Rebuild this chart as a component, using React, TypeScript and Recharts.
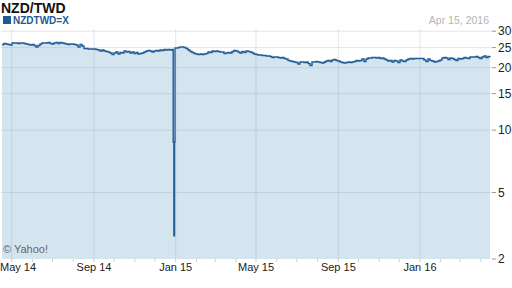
import React from 'react';
import { AreaChart, Area, XAxis, YAxis, ReferenceLine } from 'recharts';

const DAY = 86400000;
const FONT = '"Liberation Sans", Arial, sans-serif';

// x domain: Apr 15, 2014 -> just past Apr 15, 2016
const xStart = Date.UTC(2014, 3, 15);
const xEnd = Date.UTC(2016, 3, 17, 14);

// Rate samples, roughly every 3 days starting Apr 16, 2014
const seriesStart = Date.UTC(2014, 3, 16, 12);
const stepDays = 2.988;
const rates: (number | null)[] = [
  25.88, 26.17, 26.03, 25.88, 25.74, 26.32, 26.32, 26.32, 26.17, 26.32,
  26.32, 26.17, 26.03, 25.88, 25.74, 25.88, 25.60, 25.17, 25.60, 26.03,
  26.32, 26.32, 26.32, 26.47, 26.17, 26.03, 26.32, 26.47, 26.17, 26.47,
  26.32, 26.17, 26.03, 25.88, 26.03, 26.03, 25.88, 25.74, 25.17, 25.88,
  25.46, 24.76, 24.76, 24.62, 24.62, 24.62, 24.62, 24.48, 24.35, 24.08,
  24.35, 24.08, 23.94, 23.81, 23.55, 23.16, 23.55, 23.81, 23.29, 23.68,
  23.55, 24.08, 23.81, 23.94, 23.55, 23.81, 23.42, 23.68, 23.29, 23.42,
  23.55, 23.81, 24.08, 24.21, 24.08, 23.81, 24.08, 24.21, 24.08, 24.35,
  24.21, 24.48, 24.35, 24.48, 24.35, 24.48, null, 24.90, 25.03, 25.17,
  25.17, 25.03, 24.76, 24.35, 23.94, 23.68, 23.42, 23.29, 23.16, 23.29,
  23.16, 23.29, 23.42, 23.81, 23.68, 24.08, 23.94, 24.08, 23.94, 23.81,
  23.81, 23.42, 23.55, 23.68, 23.55, 23.94, 24.21, 24.08, 23.81, 23.55,
  23.94, 23.68, 24.08, 23.94, 23.81, 23.55, 23.29, 23.16, 23.03, 23.03,
  22.90, 22.90, 22.77, 22.77, 22.65, 22.40, 22.52, 22.52, 22.40, 22.27,
  22.40, 22.15, 22.02, 21.66, 21.54, 21.42, 21.30, 21.18, 20.83, 21.30,
  21.30, 21.18, 21.30, 20.95, 20.48, 21.30, 21.30, 21.42, 21.30, 21.18,
  21.06, 21.30, 21.54, 21.66, 21.42, 21.78, 21.90, 21.66, 21.54, 21.30,
  21.18, 21.06, 21.18, 21.30, 21.18, 21.30, 21.42, 21.66, 21.54, 21.66,
  22.02, 21.42, 22.02, 22.27, 22.27, 22.40, 22.40, 22.27, 22.40, 22.15,
  22.27, 22.02, 21.78, 21.54, 21.66, 21.30, 21.66, 21.54, 21.18, 21.78,
  21.54, 21.42, 21.78, 22.02, 22.15, 22.02, 22.15, 22.15, 22.15, 22.15,
  22.15, 21.78, 21.42, 22.02, 21.66, 21.54, 21.30, 21.42, 21.54, 21.78,
  22.27, 22.40, 22.27, 21.90, 22.27, 22.15, 21.90, 21.66, 22.15, 22.02,
  22.15, 22.40, 22.27, 22.15, 22.52, 22.52, 22.52, 22.65, 22.40, 22.15,
  22.52, 22.77, 22.40, 22.65, 22.77,
];

// Bad ticks around the turn of the year 2014/2015
const spikeTimes = [
  Date.UTC(2014, 11, 28, 7),
  Date.UTC(2014, 11, 29, 7),
  Date.UTC(2014, 11, 30, 5),
  Date.UTC(2014, 11, 31, 0),
];
const spikeRates = [8.77, 3.09, 8.77, 24.9];

// Month ticks (May 2014 .. Apr 2016); labels on May / Sep / Jan
const tickMonths: [number, number][] = [
  [2014, 4], [2014, 5], [2014, 6], [2014, 7], [2014, 8], [2014, 9], [2014, 10], [2014, 11],
  [2015, 0], [2015, 1], [2015, 2], [2015, 3], [2015, 4], [2015, 5], [2015, 6], [2015, 7],
  [2015, 8], [2015, 9], [2015, 10], [2015, 11], [2016, 0], [2016, 1], [2016, 2], [2016, 3],
];
const monthNames = ['Jan', 'Feb', 'Mar', 'Apr', 'May', 'Jun', 'Jul', 'Aug', 'Sep', 'Oct', 'Nov', 'Dec'];
const labelledMonths = [0, 4, 8];

// Log y axis
const yMin = 2.39;
const yMax = 30.74;
const yTicks = [2.39, 5, 10, 15, 20, 25, 30];
const yGrid = [5, 10, 15, 20, 25, 30];

const xTicks = tickMonths.map(([y, m]) => Date.UTC(y, m, 1));
const xMajor = tickMonths.filter(([, m]) => labelledMonths.includes(m)).map(([y, m]) => Date.UTC(y, m, 1));

const data = [
  ...rates
    .map((v, i) => ({ t: seriesStart + i * stepDays * DAY, v }))
    .filter((d) => d.v !== null),
  ...spikeTimes.map((t, i) => ({ t, v: spikeRates[i] })),
].sort((a, b) => a.t - b.t);

const fmtX = (t: number) => {
  const d = new Date(t);
  const m = d.getUTCMonth();
  if (!labelledMonths.includes(m)) return '';
  return `${monthNames[m]} ${String(d.getUTCFullYear()).slice(2)}`;
};

const XTick = (props: any) => {
  const { x, y, payload } = props;
  const label = fmtX(payload.value);
  if (!label) return <g />;
  const w = label.length * 5.6;
  const clamp = x - w / 2 < 0;
  return (
    <text
      x={clamp ? 0 : x}
      y={y}
      dy="0.71em"
      textAnchor={clamp ? 'start' : 'middle'}
      fontSize={11}
      fontFamily={FONT}
      fill="#222"
    >
      {label}
    </text>
  );
};

const GRID = 'rgba(120,140,160,0.22)';

export default function App() {
  return (
    <div style={{ position: 'absolute', left: 0, top: 0, width: 512, height: 288, background: '#fff', fontFamily: FONT }}>
      <div style={{ position: 'absolute', left: 1, top: 0, fontSize: 14, lineHeight: '16px', fontWeight: 'bold', color: '#111', whiteSpace: 'nowrap' }}>
        NZD/TWD
      </div>
      <div style={{ position: 'absolute', left: 3, top: 16, width: 8, height: 8, background: '#1e5a94' }} />
      <div style={{ position: 'absolute', left: 13, top: 16.2, fontSize: 10, lineHeight: '10px', fontWeight: 'bold', color: '#1e5a94', whiteSpace: 'nowrap' }}>
        NZDTWD=X
      </div>
      <div style={{ position: 'absolute', right: 23, top: 15, fontSize: 10.5, lineHeight: '11px', color: '#b4b4b4', whiteSpace: 'nowrap' }}>
        Apr 15, 2016
      </div>
      <AreaChart width={512} height={288} data={data} margin={{ top: 29, right: 0, bottom: 0, left: 1 }}>
        <XAxis
          dataKey="t"
          type="number"
          domain={[xStart, xEnd]}
          allowDataOverflow
          ticks={xTicks}
          tick={<XTick />}
          interval={0}
          tickSize={3}
          tickMargin={1}
          axisLine={false}
          tickLine={{ stroke: '#cccccc' }}
          height={29}
        />
        <YAxis
          orientation="right"
          scale="log"
          type="number"
          domain={[yMin, yMax]}
          allowDataOverflow
          ticks={yTicks}
          interval={0}
          tickFormatter={(v: number) => String(Math.round(v))}
          tick={{ fontSize: 12, fill: '#222', fontFamily: FONT }}
          tickSize={4}
          tickMargin={2}
          axisLine={false}
          tickLine={{ stroke: '#999999' }}
          width={20}
        />
        <Area
          type="stepAfter"
          dataKey="v"
          stroke="#1d5a96"
          strokeWidth={1.4}
          fill="#d5e5f0"
          fillOpacity={1}
          isAnimationActive={false}
          dot={false}
          activeDot={false}
        />
        {yGrid.map((v) => (
          <ReferenceLine key={`y${v}`} y={v} stroke={GRID} strokeWidth={1} />
        ))}
        {xMajor.map((t) => (
          <ReferenceLine key={`x${t}`} x={t} stroke={GRID} strokeWidth={1} />
        ))}
      </AreaChart>
      <div style={{ position: 'absolute', left: 3, top: 244, fontSize: 11, lineHeight: '11px', color: '#666', whiteSpace: 'nowrap' }}>
        © Yahoo!
      </div>
    </div>
  );
}
